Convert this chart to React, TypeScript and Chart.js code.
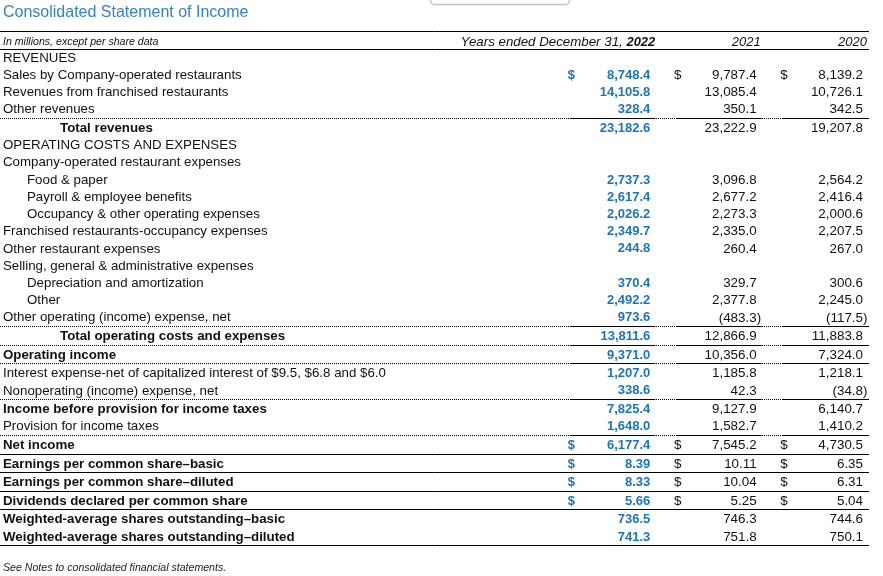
import React, { useEffect, useRef } from 'react';
import { Chart, registerables } from 'chart.js';

Chart.register(...registerables);

const title = 'Consolidated Statement of Income';
const headerNote = 'In millions, except per share data';
const headerPrefix = 'Years ended December 31, ';
const yearHeaders = ['2022', '2021', '2020'];
const footnote = 'See Notes to consolidated financial statements.';

const rowLabels = [
  'REVENUES',
  'Sales by Company-operated restaurants',
  'Revenues from franchised restaurants',
  'Other revenues',
  'Total revenues',
  'OPERATING COSTS AND EXPENSES',
  'Company-operated restaurant expenses',
  'Food & paper',
  'Payroll & employee benefits',
  'Occupancy & other operating expenses',
  'Franchised restaurants-occupancy expenses',
  'Other restaurant expenses',
  'Selling, general & administrative expenses',
  'Depreciation and amortization',
  'Other',
  'Other operating (income) expense, net',
  'Total operating costs and expenses',
  'Operating income',
  'Interest expense-net of capitalized interest of $9.5, $6.8 and $6.0',
  'Nonoperating (income) expense, net',
  'Income before provision for income taxes',
  'Provision for income taxes',
  'Net income',
  'Earnings per common share\u2013basic',
  'Earnings per common share\u2013diluted',
  'Dividends declared per common share',
  'Weighted-average shares outstanding\u2013basic',
  'Weighted-average shares outstanding\u2013diluted',
];

// p = plain, i = indented, t = total (bold, deep indent), b = bold
const rowKinds = [
  'p', 'p', 'p', 'p', 't', 'p', 'p', 'i', 'i', 'i', 'p', 'p', 'p', 'i', 'i', 'p',
  't', 'b', 'p', 'p', 'b', 'p', 'b', 'b', 'b', 'b', 'b', 'b',
];

const values2022 = [
  null, 8748.4, 14105.8, 328.4, 23182.6, null, null, 2737.3, 2617.4, 2026.2, 2349.7, 244.8,
  null, 370.4, 2492.2, 973.6, 13811.6, 9371.0, 1207.0, 338.6, 7825.4, 1648.0, 6177.4,
  8.39, 8.33, 5.66, 736.5, 741.3,
];
const values2021 = [
  null, 9787.4, 13085.4, 350.1, 23222.9, null, null, 3096.8, 2677.2, 2273.3, 2335.0, 260.4,
  null, 329.7, 2377.8, -483.3, 12866.9, 10356.0, 1185.8, 42.3, 9127.9, 1582.7, 7545.2,
  10.11, 10.04, 5.25, 746.3, 751.8,
];
const values2020 = [
  null, 8139.2, 10726.1, 342.5, 19207.8, null, null, 2564.2, 2416.4, 2000.6, 2207.5, 267.0,
  null, 300.6, 2245.0, -117.5, 11883.8, 7324.0, 1218.1, -34.8, 6140.7, 1410.2, 4730.5,
  6.35, 6.31, 5.04, 744.6, 750.1,
];

const dollarRows = [1, 22, 23, 24, 25];
const twoDecimalRows = [23, 24, 25];
const dottedAfter = [3, 15, 16, 17, 19, 21];
const solidAfter = [22, 23, 24, 25, 27];

const FONT = '"Liberation Sans", Arial, Helvetica, sans-serif';
const BLUE = '#1c74bd';
const TITLE_BLUE = '#3580c4';
const TEXT = '#111111';
const SEP_EXTRA = 0.08;

// row positions on the (linear) row axis: one unit per row, plus a little extra under a rule
const rowPositions: number[] = (() => {
  const out: number[] = [];
  let acc = 0;
  for (let i = 0; i < rowLabels.length; i++) {
    out.push(acc);
    const sep = dottedAfter.includes(i) || solidAfter.includes(i);
    acc += 1 + (sep ? SEP_EXTRA : 0);
  }
  return out;
})();

function fmt(v: number, dec: number) {
  return Math.abs(v).toLocaleString('en-US', { minimumFractionDigits: dec, maximumFractionDigits: dec });
}

const tablePlugin = {
  id: 'tablePlugin',
  beforeDraw(chart: any) {
    const ctx = chart.ctx;
    ctx.save();
    ctx.fillStyle = '#ffffff';
    ctx.fillRect(0, 0, chart.width, chart.height);
    ctx.restore();
  },
  afterDraw(chart: any) {
    const ctx: CanvasRenderingContext2D = chart.ctx;
    const xs = chart.scales.x;
    const ys = chart.scales.y;
    const rowY = (i: number) => ys.getPixelForValue(rowPositions[i]);
    const colRight = (c: number) => xs.getPixelForValue(c + 1);
    const step = ys.getPixelForValue(1) - ys.getPixelForValue(0);
    const left = 3;
    const tableRight = xs.right + 6;
    const T = 1; // text optical offset
    ctx.save();

    // top decoration box
    ctx.strokeStyle = '#c4c4c4';
    ctx.lineWidth = 1.5;
    ctx.beginPath();
    (ctx as any).roundRect(430.5, -10, 139, 14.5, 4);
    ctx.stroke();

    // title
    ctx.fillStyle = TITLE_BLUE;
    ctx.font = `16px ${FONT}`;
    ctx.textBaseline = 'middle';
    ctx.textAlign = 'left';
    ctx.fillText(title, left, 13);

    const hLine = (yy: number, x0: number, x1: number, dash: number[]) => {
      ctx.beginPath();
      ctx.setLineDash(dash);
      ctx.strokeStyle = '#000';
      ctx.lineWidth = 1;
      const py = Math.round(yy) + 0.5;
      ctx.moveTo(x0, py);
      ctx.lineTo(x1, py);
      ctx.stroke();
      ctx.setLineDash([]);
    };

    // header lines
    const headerY = rowY(0) - step * 0.9 + T;
    hLine(rowY(0) - step * 1.5, 0, tableRight, []);
    hLine(rowY(0) - step * 0.45, 0, tableRight, []);

    // header text
    ctx.fillStyle = TEXT;
    ctx.font = `italic 10.6px ${FONT}`;
    ctx.textAlign = 'left';
    ctx.fillText(headerNote, left, headerY);

    ctx.textAlign = 'right';
    ctx.font = `italic bold 13px ${FONT}`;
    const r0 = colRight(0) + 5;
    ctx.fillText(yearHeaders[0], r0, headerY);
    const w0 = ctx.measureText(yearHeaders[0]).width;
    ctx.font = `italic 13.3px ${FONT}`;
    ctx.fillText(headerPrefix, r0 - w0, headerY);
    ctx.font = `italic 13px ${FONT}`;
    ctx.fillText(yearHeaders[1], colRight(1) + 4, headerY);
    ctx.fillText(yearHeaders[2], colRight(2) + 4, headerY);

    // separators
    const between = (i: number) => (rowY(i) + rowY(i + 1)) / 2;
    dottedAfter.forEach((i) => {
      const yy = between(i);
      hLine(yy, 0, tableRight, [1, 1]);
      for (let c = 0; c < 3; c++) {
        hLine(yy, colRight(c) - 80, Math.min(colRight(c) + 5, tableRight), []);
      }
    });
    solidAfter.forEach((i) => {
      const yy = i === rowLabels.length - 1 ? rowY(i) + step / 2 : between(i);
      hLine(yy, 0, tableRight, []);
    });

    // row labels
    ctx.textAlign = 'left';
    rowLabels.forEach((lab, i) => {
      const k = rowKinds[i];
      const bold = k === 't' || k === 'b';
      ctx.font = `${bold ? 'bold ' : ''}13.3px ${FONT}`;
      ctx.fillStyle = TEXT;
      const x = k === 't' ? 60 : k === 'i' ? 27 : left;
      ctx.fillText(lab, x, rowY(i) + T);
    });

    // values
    const cols = [values2022, values2021, values2020];
    cols.forEach((vals, c) => {
      const bold = c === 0;
      const color = c === 0 ? BLUE : TEXT;
      vals.forEach((v, i) => {
        if (v === null || v === undefined) return;
        const yy = rowY(i) + T;
        const right = colRight(c);
        ctx.fillStyle = color;
        ctx.font = bold ? `bold 13px ${FONT}` : `13.4px ${FONT}`;
        const dec = twoDecimalRows.includes(i) ? 2 : 1;
        ctx.textAlign = 'right';
        if (v < 0) {
          ctx.fillText('(' + fmt(v, dec), right, yy);
          ctx.textAlign = 'left';
          ctx.fillText(')', right, yy);
        } else {
          ctx.fillText(fmt(v, dec), right, yy);
        }
        if (dollarRows.includes(i)) {
          ctx.textAlign = 'center';
          ctx.fillText('$', right - 79, yy);
        }
      });
    });

    // footnote
    ctx.textAlign = 'left';
    ctx.fillStyle = '#222';
    ctx.font = `italic 10.6px ${FONT}`;
    ctx.fillText(footnote, left, rowY(rowLabels.length - 1) + 31 + T);

    ctx.restore();
  },
};

export default function App() {
  const ref = useRef<HTMLCanvasElement | null>(null);
  useEffect(() => {
    if (!ref.current) return;
    const chart = new Chart(ref.current, {
      type: 'bar',
      data: { labels: rowLabels, datasets: [] },
      options: {
        animation: false,
        responsive: false,
        devicePixelRatio: 1,
        indexAxis: 'y',
        layout: { padding: { left: 544, right: 20, top: 57, bottom: 40 } },
        plugins: { legend: { display: false }, tooltip: { enabled: false } },
        scales: {
          x: { type: 'linear', min: 0, max: 3, display: false, offset: false },
          y: {
            type: 'linear',
            reverse: true,
            offset: false,
            grace: 0,
            min: 0,
            max: rowPositions[rowPositions.length - 1],
            display: false,
          },
        },
      },
      plugins: [tablePlugin],
    } as any);
    return () => chart.destroy();
  }, []);
  return (
    <div style={{ position: 'absolute', left: 0, top: 0, width: 883, height: 576, background: '#fff' }}>
      <canvas ref={ref} width={883} height={576} style={{ display: 'block' }} />
    </div>
  );
}
